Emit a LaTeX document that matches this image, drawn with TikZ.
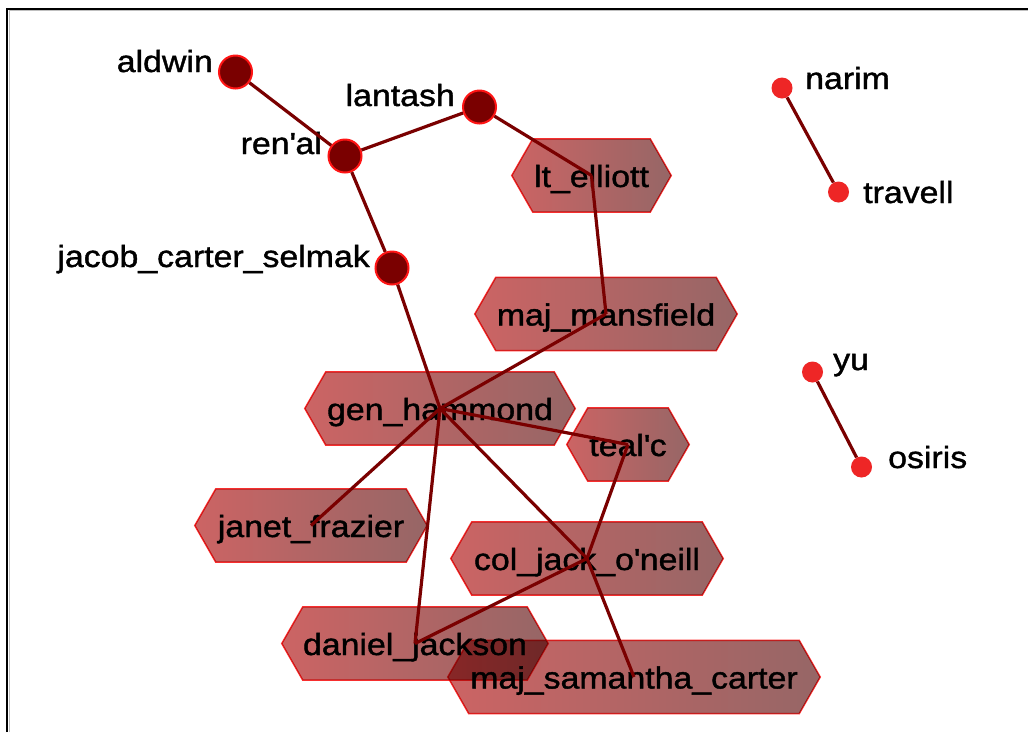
\documentclass[tikz,border=0pt]{standalone}
\usepackage{fontspec}
\setmainfont{Liberation Sans}[FakeStretch=1.11,FakeBold=1.3]
\usetikzlibrary{calc}
\definecolor{edgec}{RGB}{122,0,0}
\definecolor{bigc}{RGB}{122,0,0}
\definecolor{ringc}{RGB}{255,20,20}
\definecolor{smallc}{RGB}{238,38,38}
\definecolor{hexL}{RGB}{204,100,100}
\definecolor{hexR}{RGB}{150,102,102}
\definecolor{hexB}{RGB}{255,50,50}
\newcommand\hexpath[1]{\path[hexfill] (#1.north west) -- (#1.north east) -- ([xshift=21pt]#1.east) -- (#1.south east) -- (#1.south west) -- ([xshift=-21pt]#1.west) -- cycle;}
\begin{document}
\begin{tikzpicture}[x=1pt,y=-1pt,
  lbl/.style={font=\fontsize{30.5}{36}\selectfont, inner sep=0pt},
  bigdot/.style={circle, fill=bigc, draw=ringc, line width=2pt, minimum size=33pt, inner sep=0pt},
  smalldot/.style={circle, fill=smallc, minimum size=21pt, inner sep=0pt},
  hexnode/.style={lbl, minimum height=73pt, text height=23pt, text depth=0pt},
  edge/.style={draw=edgec, line width=3.2pt},
  hexfill/.style={left color=hexL, right color=hexR, draw=hexB, line width=1.5pt},
  frame/.style={draw=black, line width=2pt}
]
\useasboundingbox (0,0) rectangle (1028,732);
\fill[white] (0,0) rectangle (1028,732);
\draw[frame] (7,732) -- (7,8.5) -- (1028,8.5);
\draw[gray!50, line width=1pt] (9,732) -- (9,10.5) -- (1028,10.5);

% hexagon nodes (text)
\node[hexnode, minimum width=117pt] (lt) at (591.5,175.5) {lt\_elliott};
\node[hexnode, minimum width=220pt] (mans) at (606,314) {maj\_mansfield};
\node[hexnode, minimum width=228pt] (gen) at (440,408.5) {gen\_hammond};
\node[hexnode, minimum width=80pt] (tealc) at (628,444.5) {teal\textquotesingle c};
\node[hexnode, minimum width=190pt] (janet) at (311,525.5) {janet\_frazier};
\node[hexnode, minimum width=230pt] (jack) at (587,558.5) {col\_jack\_o\textquotesingle neill};
\node[hexnode, minimum width=224pt] (daniel) at (415,643.5) {daniel\_jackson};
\node[hexnode, minimum width=330pt] (sam) at (634,677) {maj\_samantha\_carter};

\begin{scope}[blend mode=multiply]
\hexpath{lt}
\hexpath{mans}
\hexpath{gen}
\hexpath{tealc}
\hexpath{janet}
\hexpath{jack}
\hexpath{daniel}
\hexpath{sam}
\end{scope}

% circle nodes
\node[bigdot] (aldwin) at (235.5,72) {};
\node[bigdot] (lantash) at (479.5,107) {};
\node[bigdot] (renal) at (345,156) {};
\node[bigdot] (jacob) at (392,268) {};
\node[smalldot] (narim) at (782,88) {};
\node[smalldot] (travell) at (838.5,192) {};
\node[smalldot] (yu) at (812.5,372) {};
\node[smalldot] (osiris) at (861.5,467) {};

\node[lbl, anchor=base east] (aldwin-l) at (213,72) {aldwin};
\node[lbl, anchor=base east] (lantash-l) at (455,106) {lantash};
\node[lbl, anchor=base east] (renal-l) at (322,154) {ren\textquotesingle al};
\node[lbl, anchor=base east] (jacob-l) at (370,267) {jacob\_carter\_selmak};
\node[lbl, anchor=base west] (narim-l) at (805,89) {narim};
\node[lbl, anchor=base west] (travell-l) at (863,203) {travell};
\node[lbl, anchor=base west] (yu-l) at (833,370) {yu};
\node[lbl, anchor=base west] (osiris-l) at (888,468) {osiris};

% edges
\draw[edge] (aldwin) -- (renal);
\draw[edge] (renal) -- (lantash);
\draw[edge] (renal) -- (jacob);
\draw[edge] (lantash) -- (lt.center);
\draw[edge] (lt.center) -- (mans.center);
\draw[edge] (mans.center) -- (gen.center);
\draw[edge] (jacob) -- (gen.center);
\draw[edge] (gen.center) -- (tealc.center);
\draw[edge] (gen.center) -- (janet.center);
\draw[edge] (gen.center) -- (daniel.center);
\draw[edge] (gen.center) -- (jack.center);
\draw[edge] (tealc.center) -- (jack.center);
\draw[edge] (jack.center) -- (daniel.center);
\draw[edge] (jack.center) -- (sam.center);
\draw[edge] (narim) -- (travell);
\draw[edge] (yu) -- (osiris);
\end{tikzpicture}
\end{document}
